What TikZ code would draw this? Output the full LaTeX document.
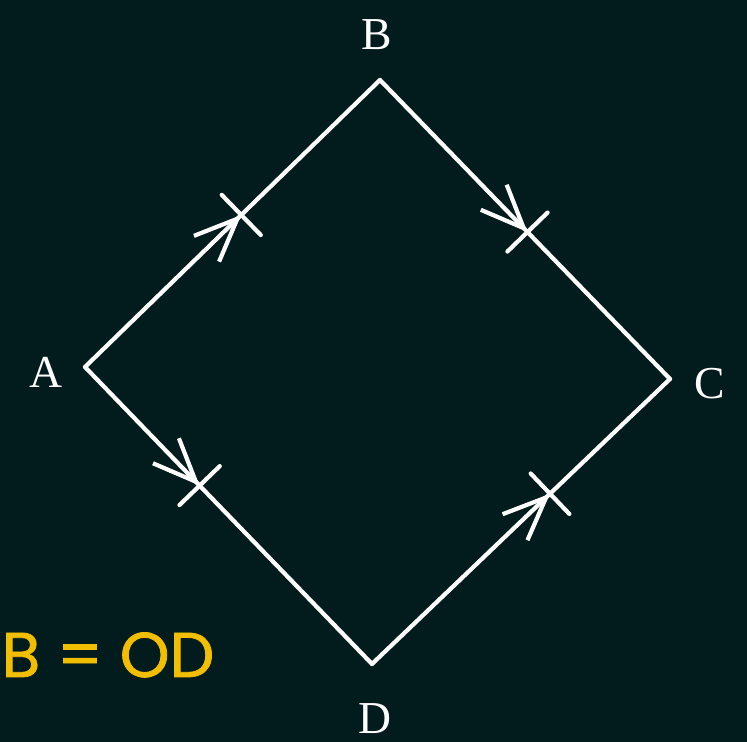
\documentclass[tikz,border=0pt]{standalone}
\usepackage{fontspec}
\setmainfont{Liberation Serif}
\newfontfamily\eqfont[FakeBold=1.2]{Poppins}
\usepackage{xcolor}
\usetikzlibrary{arrows.meta, positioning, decorations.markings}

\definecolor{boardbg}{RGB}{2,27,29}
\definecolor{chalkyellow}{RGB}{242,190,0}

\begin{document}
\begin{tikzpicture}[
    font=\fontsize{13}{15}\selectfont,
    side/.style={draw=white, line width=1.2pt, line cap=round},
    vlabel/.style={text=white, inner sep=0pt},
    eqtext/.style={text=chalkyellow, inner sep=0pt, font=\eqfont\fontsize{18}{21}\selectfont},
    flowmark/.style={postaction={decorate, decoration={markings,
        mark=at position #1 with {
            \arrow[white, line width=1.2pt]{Straight Barb[length=4.3mm, width=3.6mm]};
            \draw[white, line width=1.2pt, line cap=round] (0,-0.28) -- (0,0.28);
        }}}}
]

    % --- Frame and background ---
    \useasboundingbox (0,0) rectangle (7.47,7.42);
    \fill[boardbg] (0,0) rectangle (7.47,7.42);
    \clip (0,0) rectangle (7.47,7.42);

    % --- Vertices ---
    \coordinate (A) at (0.85,3.75);
    \coordinate (B) at (3.80,6.62);
    \coordinate (C) at (6.70,3.63);
    \coordinate (D) at (3.72,0.78);

    % --- Labels ---
    \node[vlabel, left=0.22cm of A, yshift=-0.05cm] (la) {A};
    \node[vlabel, above=0.30cm of B, xshift=-0.03cm] (lb) {B};
    \node[vlabel, right=0.24cm of C, yshift=-0.05cm] (lc) {C};
    \node[vlabel, below=0.39cm of D, xshift=0.03cm] (ld) {D};

    % --- Sides ---
    \draw[side, flowmark=0.53] (A) -- (B);
    \draw[side, flowmark=0.51] (B) -- (C);
    \draw[side, flowmark=0.40] (A) -- (D);
    \draw[side, flowmark=0.60] (D) -- (C);

    % --- Equation text ---
    \node[eqtext, anchor=base east] (eq) at (2.15,0.65) {B = OD};
\end{tikzpicture}
\end{document}
